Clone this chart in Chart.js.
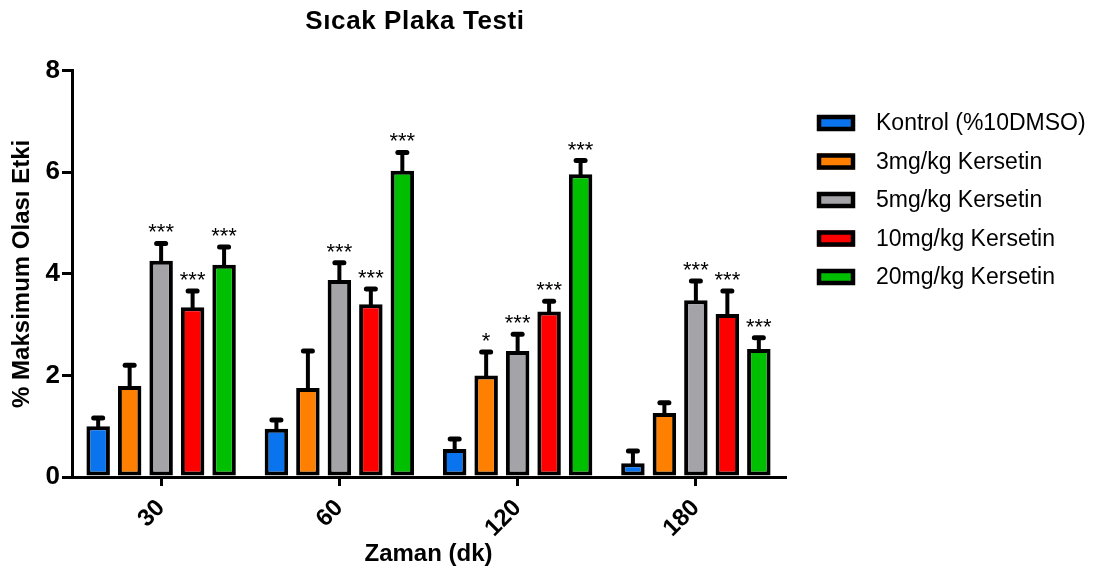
<!DOCTYPE html>
<html>
<head>
<meta charset="utf-8">
<script src="https://cdn.jsdelivr.net/npm/chart.js@4.4.1/dist/chart.umd.min.js"></script>
<style>
  html, body { margin: 0; padding: 0; background: #fff; }
  #wrap { width: 1099px; height: 574px; position: relative; }
</style>
</head>
<body>
<div id="wrap"><canvas id="hotplate"></canvas></div>
<script>
// values (mean, SEM up-only)
const zaman = ["30", "60", "120", "180"];
const yTicks = [0, 2, 4, 6, 8];

const kontrol = [1.00, 0.95, 0.55, 0.27];
const kontrolErr = [0.16, 0.17, 0.20, 0.24];
const mg3 = [1.79, 1.75, 2.00, 1.26];
const mg3Err = [0.41, 0.73, 0.46, 0.20];
const mg5 = [4.26, 3.88, 2.48, 3.48];
const mg5Err = [0.34, 0.34, 0.33, 0.38];
const mg10 = [3.34, 3.40, 3.26, 3.21];
const mg10Err = [0.32, 0.30, 0.20, 0.45];
const mg20 = [4.18, 6.03, 5.96, 2.52];
const mg20Err = [0.35, 0.36, 0.27, 0.22];

const mg3Stars = ["", "", "*", ""];
const mg5Stars = ["***", "***", "***", "***"];
const mg10Stars = ["***", "***", "***", "***"];
const mg20Stars = ["***", "***", "***", "***"];

const FONT = "'Liberation Sans', Arial, sans-serif";

// builds one dataset
const makeSet = (label, data, errors, stars, color) => {
  return {
    label: label,
    data: data,
    errors: errors,
    stars: stars,
    backgroundColor: color,
    borderColor: "#000",
    borderWidth: 4,
    borderSkipped: false,
    categoryPercentage: 0.883,
    barPercentage: 0.746,
  };
};

// error bars + significance stars drawn on top of the bars
const errorBarPlugin = {
  id: "errorBars",
  afterDatasetsDraw(chart) {
    const ctx = chart.ctx;
    const yScale = chart.scales.y;
    chart.data.datasets.forEach((ds, i) => {
      const meta = chart.getDatasetMeta(i);
      meta.data.forEach((bar, j) => {
        const yTop = yScale.getPixelForValue(ds.data[j] + ds.errors[j]);
        ctx.save();
        ctx.strokeStyle = "#000";
        ctx.lineWidth = 4;
        ctx.beginPath();
        ctx.moveTo(bar.x, bar.y + 2);
        ctx.lineTo(bar.x, yTop);
        ctx.stroke();
        ctx.lineWidth = 5;
        ctx.lineCap = "round";
        ctx.beginPath();
        ctx.moveTo(bar.x - 4.5, yTop);
        ctx.lineTo(bar.x + 4.5, yTop);
        ctx.stroke();
        if (ds.stars && ds.stars[j]) {
          ctx.fillStyle = "#000";
          ctx.font = "22px " + FONT;
          ctx.textAlign = "center";
          ctx.textBaseline = "alphabetic";
          ctx.fillText(ds.stars[j], bar.x, yTop - 4);
        }
        ctx.restore();
      });
    });
  },
};

// title and legend on the right
const decorPlugin = {
  id: "decor",
  afterDraw(chart) {
    const ctx = chart.ctx;
    ctx.save();
    ctx.fillStyle = "#000";
    ctx.font = "bold 26px " + FONT;
    ctx.letterSpacing = "0.6px";
    ctx.textAlign = "center";
    ctx.textBaseline = "alphabetic";
    ctx.fillText("Sıcak Plaka Testi", 415, 29);
    ctx.letterSpacing = "0px";

    chart.data.datasets.forEach((ds, i) => {
      const cy = 123 + i * 38.5;
      ctx.fillStyle = ds.backgroundColor;
      ctx.fillRect(817, cy - 8, 38, 16);
      ctx.strokeStyle = "#000";
      ctx.lineWidth = 4.5;
      ctx.strokeRect(819, cy - 6, 34, 12);
      ctx.fillStyle = "#000";
      ctx.font = "23px " + FONT;
      ctx.textAlign = "left";
      ctx.textBaseline = "middle";
      ctx.fillText(ds.label, 876, cy + 1);
    });
    ctx.restore();
  },
};

const ctx = document.getElementById("hotplate");
new Chart(ctx, {
  type: "bar",
  data: {
    labels: zaman,
    datasets: [
      makeSet("Kontrol (%10DMSO)", kontrol, kontrolErr, ["", "", "", ""], "#0A74EE"),
      makeSet("3mg/kg Kersetin", mg3, mg3Err, mg3Stars, "#FF8000"),
      makeSet("5mg/kg Kersetin", mg5, mg5Err, mg5Stars, "#A3A3A8"),
      makeSet("10mg/kg Kersetin", mg10, mg10Err, mg10Stars, "#FF0000"),
      makeSet("20mg/kg Kersetin", mg20, mg20Err, mg20Stars, "#00BF00"),
    ],
  },
  options: {
    responsive: true,
    maintainAspectRatio: false,
    animation: false,
    layout: {
      padding: { top: 70.7, right: 314, left: 0, bottom: 0 },
    },
    plugins: {
      legend: { display: false },
      title: { display: false },
      tooltip: { enabled: false },
    },
    scales: {
      x: {
        grid: {
          drawOnChartArea: false,
          offset: false,
          color: "#000",
          lineWidth: 3,
          tickLength: 9,
        },
        border: { color: "#000", width: 3 },
        ticks: {
          color: "#000",
          font: { family: FONT, size: 24, weight: "bold" },
          minRotation: 45,
          maxRotation: 45,
          padding: 8,
        },
        title: {
          display: true,
          text: "Zaman (dk)",
          color: "#000",
          font: { family: FONT, size: 24, weight: "bold" },
          padding: { top: 0, bottom: 5 },
        },
        afterFit(scale) {
          scale.height = 97;
        },
      },
      y: {
        min: 0,
        max: 8,
        afterBuildTicks(scale) {
          scale.ticks = yTicks.map((v) => ({ value: v }));
        },
        grid: {
          drawOnChartArea: false,
          color: "#000",
          lineWidth: 3,
          tickLength: 10,
        },
        border: { color: "#000", width: 3 },
        ticks: {
          color: "#000",
          font: { family: FONT, size: 26, weight: "bold" },
          padding: 2,
        },
        title: {
          display: true,
          text: "% Maksimum Olası Etki",
          color: "#000",
          font: { family: FONT, size: 24, weight: "bold" },
          padding: { top: 8, bottom: 0 },
        },
        afterFit(scale) {
          scale.width = 72;
        },
      },
    },
  },
  plugins: [errorBarPlugin, decorPlugin],
});
</script>
</body>
</html>
